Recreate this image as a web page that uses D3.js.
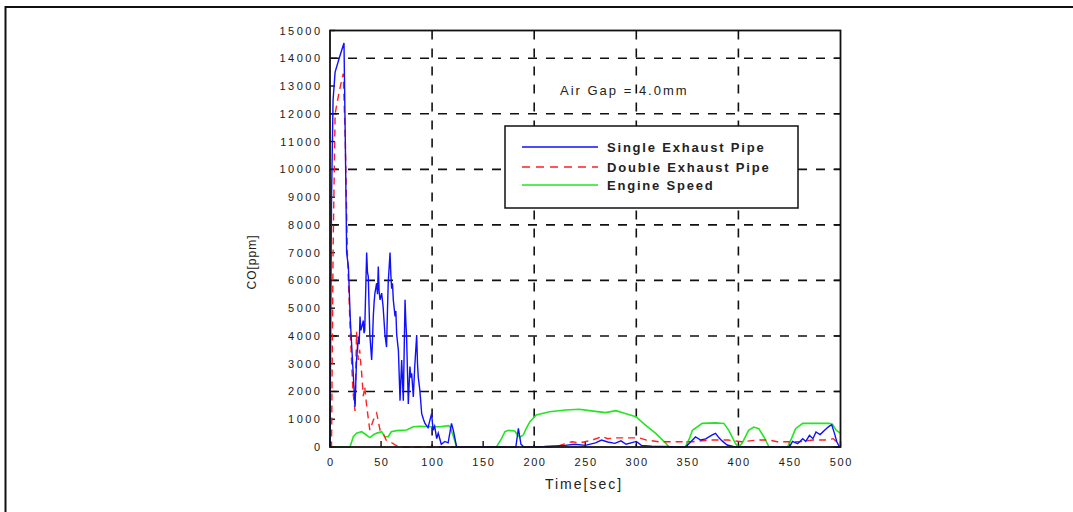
<!DOCTYPE html>
<html><head><meta charset="utf-8">
<script src="https://cdn.jsdelivr.net/npm/d3@7"></script>
<style>
html,body{margin:0;padding:0;background:#fff;}
svg{display:block;font-family:"Liberation Sans",Arial,sans-serif;}
</style></head>
<body>
<svg id="chart" width="1073" height="512"></svg>
<script>
// ---- data ----
const singleT = [0,0.5,1.5,3,5,9,13.7,15,16.3,18,20,22.5,24.5,26,27.8,28.6,29.4,30.2,31,32.6,33.3,34,35.9,36.7,37.5,38.3,39,40.8,41.6,42.4,43.2,44,45.7,46.5,47.3,48.1,49,50.6,51.3,52,53.8,55.4,56.2,57,58.8,59.6,60.4,61.2,62,63.7,64.5,65.3,67,68.6,69.4,70.2,71.8,73.5,74.3,75,76.7,78.3,79.1,80,81.6,83,84.9,85.7,86.5,88,89.8,91.5,93,96,99.5,101,102.5,104.5,106,109,112.5,115.7,119,120.8,124,182,184.5,187,190,210,230,240,250,260,266,272,279,285,290,300,305,315,348,351,358,363,368,374,377.6,381,384,389,395,450,453,458,463,466,469.6,473,476,480,486,489,491.4,494,496.4,499,500];
const singleV = [0,3000,9000,12500,13500,14000,14550,11000,7000,6500,4500,2800,1450,3135,3975,3700,4700,4200,4300,4550,4100,4200,7000,6300,6140,5000,4060,3135,3800,4700,5200,5540,5900,5500,6500,5600,5300,5540,5300,5060,4060,3600,4800,5900,7000,6200,5700,5900,5300,4700,4900,4060,3470,1670,2400,3135,1670,5300,4500,3975,1550,2900,2500,2650,1800,2900,4036,3000,2500,2050,1200,1000,850,700,1200,600,750,300,500,100,200,150,850,600,0,0,670,100,0,20,60,100,60,150,250,180,130,220,100,200,60,30,0,100,360,250,290,430,490,330,220,70,20,0,200,120,300,200,420,300,540,450,660,750,800,500,190,0,0];

const doubleT = [0,1.5,3,5,9,13,15,17,20,22.5,24.5,26,27.7,29,31,32.6,34,36,39,42.5,45.7,49,52,55,59,64,68.6,215,225,237,245,257,266.8,272,280,290,303,310,322,355,371,390,403,419,430,438,460,473,485,493,496,500];
const doubleV = [0,0,7000,12000,12800,13450,11000,7000,4000,2000,1300,4150,3135,3500,2660,1830,2170,1450,610,970,1220,610,490,250,190,70,0,0,60,190,150,250,380,300,330,330,330,250,190,190,250,250,190,250,250,190,190,250,250,300,190,150];

const speedT = [0,19.6,22.8,26,31,35,39,43,46,50.6,53.8,57,60,65,75,81.6,88,98,107.7,116,117.5,121,124,163,168,171.4,174.7,181,182.7,186,189.3,192,195.8,202,215,231,244,254,270,280,290,299.6,309,319,329,332,348,352,355,364.5,377.6,385.8,390.6,397,400,403.6,410,415,420,425,430,448,452,456,463,476,489,492,496,500];
const speedV = [0,0,370,500,550,450,340,450,500,550,370,370,550,590,610,730,745,730,730,770,730,370,0,0,300,550,600,580,480,350,430,650,910,1150,1270,1330,1360,1310,1240,1310,1200,1090,790,490,130,0,0,300,600,850,870,850,600,130,0,130,600,720,660,360,0,0,300,660,850,850,850,820,600,500];

const xTicks = [0,50,100,150,200,250,300,350,400,450,500];
const yTicks = [0,1000,2000,3000,4000,5000,6000,7000,8000,9000,10000,11000,12000,13000,14000,15000];
const xGrid = [100,200,300,400];
const yGrid = [2000,4000,6000,8000,10000,12000,14000];
const seriesNames = ["Single Exhaust Pipe","Double Exhaust Pipe","Engine Speed"];
const annotation = "Air Gap = 4.0mm";
const xTitle = "Time[sec]";
const yTitle = "CO[ppm]";

// ---- layout ----
const svg = d3.select("#chart");
const L = 330, R = 840.5, T = 30.5, B = 447;
const x = d3.scaleLinear().domain([0,500]).range([L,R]);
const y = d3.scaleLinear().domain([0,15000]).range([B,T]);

// outer frame
svg.append("path").attr("d","M5.5,520 L5.5,7 L1080,7").attr("fill","none").attr("stroke","#111").attr("stroke-width",2);

// grid
const g = svg.append("g");
g.selectAll("line.hg").data(yGrid).enter().append("line")
  .attr("x1",L).attr("x2",R).attr("y1",d=>y(d)).attr("y2",d=>y(d))
  .attr("stroke","#111").attr("stroke-width",1.6).attr("stroke-dasharray","9,9");
g.selectAll("line.vg").data(xGrid).enter().append("line")
  .attr("y1",T).attr("y2",B).attr("x1",d=>x(d)).attr("x2",d=>x(d))
  .attr("stroke","#111").attr("stroke-width",1.6).attr("stroke-dasharray","9,9");

// inward ticks
const tk = svg.append("g").attr("stroke","#111").attr("stroke-width",1.4);
yTicks.forEach(v=>{
  const len = (v%2000===0)?7:5;
  tk.append("line").attr("x1",L).attr("x2",L+len).attr("y1",y(v)).attr("y2",y(v));
  if (v%2000===0) tk.append("line").attr("x1",R).attr("x2",R-7).attr("y1",y(v)).attr("y2",y(v));
});
xTicks.forEach(v=>{
  tk.append("line").attr("x1",x(v)).attr("x2",x(v)).attr("y1",B).attr("y2",B-6);
});

// lines
const line = d3.line().x(d=>x(d[0])).y(d=>y(d[1]));
const mk = (t,v)=>t.map((tt,i)=>[tt,v[i]]);
svg.append("path").datum(mk(speedT,speedV)).attr("d",line)
  .attr("fill","none").attr("stroke","#22e622").attr("stroke-width",1.6);
svg.append("path").datum(mk(doubleT,doubleV)).attr("d",line)
  .attr("fill","none").attr("stroke","#ff2020").attr("stroke-width",1.4).attr("stroke-dasharray","7,5");
svg.append("path").datum(mk(singleT,singleV)).attr("d",line)
  .attr("fill","none").attr("stroke","#1010ff").attr("stroke-width",1.4);

// plot frame
svg.append("rect").attr("x",L).attr("y",T).attr("width",R-L).attr("height",B-T)
  .attr("fill","none").attr("stroke","#111").attr("stroke-width",1.8);

// tick labels
const lab = svg.append("g").attr("fill","#1a1a1a").attr("font-size","11px");
yTicks.forEach(v=>{
  lab.append("text").attr("x",322.5).attr("y",y(v)+4).attr("text-anchor","end")
    .attr("letter-spacing","2.5px").text(v);
});
xTicks.forEach(v=>{
  lab.append("text").attr("x",x(v)+0.8).attr("y",466).attr("text-anchor","middle")
    .attr("letter-spacing","1.6px").text(v);
});

// axis titles
svg.append("text").attr("x",584).attr("y",489).attr("text-anchor","middle")
  .attr("font-size","14px").attr("letter-spacing","2px").attr("fill","#222").text(xTitle);
svg.append("text").attr("transform","translate(256,262) rotate(-90)").attr("text-anchor","middle")
  .attr("font-size","12px").attr("letter-spacing","1px").attr("fill","#222").text(yTitle);

// annotation
svg.append("text").attr("x",560).attr("y",95).attr("font-size","13px")
  .attr("letter-spacing","2px").attr("fill","#222").text(annotation);

// legend
svg.append("rect").attr("x",505).attr("y",126).attr("width",293).attr("height",82)
  .attr("fill","#fff").attr("stroke","#111").attr("stroke-width",1.5);
const legY = [147,167,185];
const legStyle = [
  {c:"#1010ff",d:null},{c:"#ff2020",d:"8,6"},{c:"#22e622",d:null}];
seriesNames.forEach((n,i)=>{
  const ln = svg.append("line").attr("x1",522).attr("x2",598).attr("y1",legY[i]).attr("y2",legY[i])
    .attr("stroke",legStyle[i].c).attr("stroke-width",1.6);
  if (legStyle[i].d) ln.attr("stroke-dasharray",legStyle[i].d);
  svg.append("text").attr("x",607).attr("y",legY[i]+4.5).attr("font-size","13px")
    .attr("font-weight","bold").attr("letter-spacing","1.8px").attr("fill","#222").text(n);
});
</script>
</body></html>
